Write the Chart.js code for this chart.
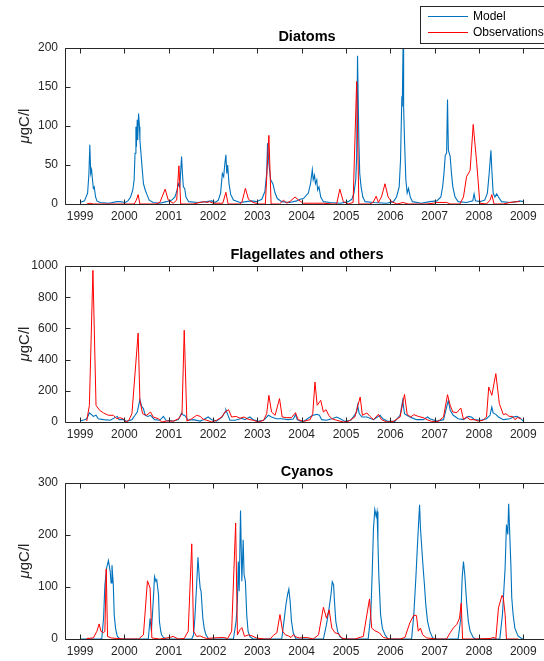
<!DOCTYPE html>
<html>
<head>
<meta charset="utf-8">
<script src="https://cdn.jsdelivr.net/npm/chart.js@4.4.0/dist/chart.umd.min.js"></script>
<style>
  html, body { margin:0; padding:0; background:#fff; }
  body { width:544px; height:661px; overflow:hidden; position:relative; }
  .panel { position:absolute; left:0; width:560px; height:230px; }
  canvas { display:block; }
</style>
</head>
<body>
<div class="panel" style="top:0px"><canvas id="c1" width="560" height="230"></canvas></div>
<div class="panel" style="top:218px"><canvas id="c2" width="560" height="230"></canvas></div>
<div class="panel" style="top:435px"><canvas id="c3" width="560" height="230"></canvas></div>
<script>
// ---------- tick labels ----------
const YEAR_TICKS = [1999,2000,2001,2002,2003,2004,2005,2006,2007,2008,2009];
const DIA_Y_TICKS = [0,50,100,150,200];
const FLA_Y_TICKS = [0,200,400,600,800,1000];
const CYA_Y_TICKS = [0,100,200,300];
const SERIES_LABELS = ['Model','Observations'];
const TITLES = ['Diatoms','Flagellates and others','Cyanos'];

// ---------- Diatoms ----------
const diaModelT = [1999.00,1999.10,1999.17,1999.20,1999.22,1999.24,1999.26,1999.28,1999.30,1999.32,1999.35,1999.38,1999.45,1999.65,1999.83,1999.90,
2000.02,2000.08,2000.14,2000.19,2000.22,2000.24,2000.26,2000.27,2000.29,2000.30,2000.32,2000.34,2000.35,2000.38,2000.41,2000.43,2000.47,2000.51,2000.56,2000.65,2000.80,2000.95,
2001.07,2001.14,2001.18,2001.22,2001.25,2001.29,2001.31,2001.33,2001.36,2001.39,2001.45,2001.65,2001.86,2001.97,
2002.05,2002.12,2002.17,2002.21,2002.24,2002.26,2002.29,2002.31,2002.33,2002.36,2002.40,2002.46,2002.61,2002.75,2002.87,2002.98,
2003.10,2003.17,2003.21,2003.23,2003.26,2003.30,2003.35,2003.40,2003.45,2003.55,2003.73,2003.89,2003.96,
2004.04,2004.15,2004.20,2004.24,2004.26,2004.29,2004.31,2004.34,2004.36,2004.39,2004.43,2004.49,2004.64,2004.87,
2005.05,2005.13,2005.18,2005.22,2005.24,2005.26,2005.29,2005.31,2005.34,2005.38,2005.43,2005.62,2005.92,
2006.07,2006.14,2006.20,2006.23,2006.26,2006.27,2006.29,2006.30,2006.32,2006.35,2006.38,2006.41,2006.45,2006.50,2006.70,2006.89,
2007.05,2007.14,2007.18,2007.21,2007.24,2007.27,2007.29,2007.31,2007.35,2007.38,2007.41,2007.46,2007.53,2007.72,2007.86,2007.89,2007.92,
2008.02,2008.13,2008.19,2008.23,2008.27,2008.29,2008.32,2008.36,2008.40,2008.44,2008.51,2008.70,2008.85,2008.92,2009.00];
const diaModelV = [2,4,14,39,76,39,44,31,20,22,9,4,2,1,3,3,
2,4,9,18,31,65,99,73,108,82,116,99,82,61,39,26,18,12,5,2,1,3,
5,9,16,26,22,61,39,22,20,9,3,2,3,4,
2,5,14,39,35,48,63,39,50,26,12,5,2,3,4,3,
6,16,39,78,52,31,26,14,7,3,2,4,6,
7,14,26,44,31,37,26,31,18,22,9,3,2,1,
3,6,14,31,61,190,82,39,22,9,3,2,1,
3,9,22,56,138,125,215,125,82,31,14,20,9,3,1,3,
4,9,22,39,63,65,134,69,61,39,22,9,3,2,4,13,4,
3,5,14,39,69,44,14,9,13,9,3,2,3,4,3];
const diaObsT = [1999.15,1999.22,1999.30,1999.60,2000.00,2000.22,2000.27,2000.31,2000.35,2000.70,2000.80,2000.92,2000.99,2001.10,2001.18,2001.23,2001.27,2001.55,2001.71,2001.80,2001.86,2001.92,
2002.00,2002.22,2002.29,2002.34,2002.60,2002.65,2002.73,2002.80,2002.90,2003.04,2003.18,2003.26,2003.31,2003.50,2003.59,2003.66,2003.75,2003.85,2003.93,
2004.04,2004.27,2004.49,2004.70,2004.79,2004.86,2004.94,2005.05,2005.16,2005.24,2005.29,2005.53,2005.61,2005.68,2005.73,2005.80,2005.88,2005.95,
2006.03,2006.15,2006.29,2006.40,2006.80,2006.97,2007.05,2007.27,2007.35,2007.57,2007.65,2007.72,2007.80,2007.87,2007.95,
2008.02,2008.17,2008.25,2008.29,2008.34,2008.55,2008.70,2008.85,2008.92];
const diaObsV = [0,1,0,0,0,0,5,12,0,0,2,19,5,1,5,49,0,0,2,3,2,3,
1,1,15,0,0,2,20,6,2,0,0,88,0,0,5,1,4,9,5,
1,1,1,0,0,19,3,0,2,157,0,0,2,10,2,9,26,9,
3,0,2,0,0,1,2,2,0,0,9,35,43,102,52,
1,0,5,12,0,0,2,3,3];

// ---------- Flagellates and others ----------
const flaModelT = [1999.00,1999.10,1999.15,1999.21,1999.26,1999.30,1999.36,1999.41,1999.53,1999.68,1999.84,1999.88,1999.98,
2000.05,2000.17,2000.24,2000.29,2000.35,2000.39,2000.43,2000.47,2000.53,2000.59,2000.68,2000.80,2000.88,2000.94,
2001.11,2001.22,2001.29,2001.33,2001.36,2001.44,2001.56,2001.71,2001.78,2001.89,2001.97,
2002.08,2002.20,2002.27,2002.29,2002.33,2002.38,2002.50,2002.65,2002.72,2002.83,2002.91,
2003.02,2003.14,2003.25,2003.32,2003.43,2003.54,2003.69,2003.81,2003.86,2003.90,2003.96,
2004.04,2004.19,2004.26,2004.34,2004.40,2004.45,2004.56,2004.68,2004.79,2004.87,2004.98,
2005.11,2005.24,2005.26,2005.30,2005.36,2005.47,2005.62,2005.77,2005.83,2005.95,
2006.10,2006.22,2006.28,2006.32,2006.37,2006.48,2006.59,2006.74,2006.84,2006.89,
2007.05,2007.20,2007.27,2007.31,2007.35,2007.42,2007.53,2007.65,2007.76,2007.83,2007.90,
2008.05,2008.17,2008.25,2008.29,2008.32,2008.38,2008.44,2008.55,2008.70,2008.77,2008.85,2008.92,2009.00];
const flaModelV = [6,15,21,58,47,36,43,21,15,11,36,15,15,
4,15,43,64,143,100,85,43,36,43,15,11,36,11,
6,15,58,43,43,11,15,6,15,32,15,
6,32,64,79,49,11,11,24,15,32,15,
4,11,43,32,21,21,15,19,47,15,6,
4,32,43,49,43,15,11,21,32,21,4,
11,64,107,53,32,32,15,43,21,4,
4,43,139,53,43,28,15,15,32,21,
6,15,96,139,75,43,21,15,36,32,15,
11,21,43,96,58,49,32,15,21,32,36,28,6];
const flaObsT = [1999.15,1999.21,1999.29,1999.36,1999.44,1999.53,1999.64,1999.75,1999.83,1999.90,1999.98,
2000.04,2000.10,2000.17,2000.31,2000.35,2000.41,2000.50,2000.59,2000.65,2000.77,2000.84,2000.95,
2001.11,2001.22,2001.30,2001.35,2001.41,2001.52,2001.63,2001.71,2001.78,2001.86,2001.97,
2002.08,2002.20,2002.27,2002.35,2002.42,2002.52,2002.61,2002.70,2002.80,2002.91,
2003.02,2003.14,2003.21,2003.26,2003.32,2003.40,2003.50,2003.56,2003.66,2003.77,2003.86,2003.92,
2004.04,2004.19,2004.25,2004.30,2004.35,2004.43,2004.49,2004.55,2004.61,2004.68,2004.79,2004.94,
2005.05,2005.20,2005.32,2005.37,2005.47,2005.54,2005.62,2005.73,2005.80,2005.92,
2006.07,2006.22,2006.32,2006.38,2006.46,2006.53,2006.63,2006.74,2006.83,2006.93,
2007.08,2007.20,2007.29,2007.35,2007.41,2007.50,2007.59,2007.65,2007.72,2007.80,2007.90,2007.98,
2008.09,2008.17,2008.22,2008.29,2008.38,2008.46,2008.55,2008.61,2008.68,2008.76,2008.81,2008.87,2008.95];
const flaObsV = [6,107,972,107,75,58,43,43,21,28,19,
0,11,53,570,139,53,43,64,32,21,0,6,
6,21,53,588,6,21,43,36,17,11,0,
11,32,64,79,32,36,24,32,17,11,
0,11,53,171,64,43,150,32,28,28,60,15,
4,15,53,256,107,139,64,79,43,21,11,0,
4,32,160,43,58,36,15,49,15,0,
4,32,177,49,32,47,36,28,15,4,
4,32,175,107,64,60,90,17,32,15,15,6,
11,32,224,171,310,118,47,53,36,36,15,28,21];

// ---------- Cyanos ----------
const cyaModelT = [1999.00,1999.45,1999.49,1999.53,1999.56,1999.60,1999.64,1999.68,1999.70,1999.72,1999.75,1999.77,1999.80,1999.84,1999.90,
2000.54,2000.58,2000.61,2000.65,2000.68,2000.71,2000.73,2000.77,2000.79,2000.82,2000.84,2000.88,2000.95,
2001.52,2001.56,2001.59,2001.63,2001.66,2001.69,2001.71,2001.73,2001.77,2001.80,2001.84,2001.90,
2002.46,2002.52,2002.55,2002.57,2002.59,2002.62,2002.65,2002.68,2002.70,2002.73,2002.76,2002.79,2002.83,2002.90,
2003.55,2003.60,2003.64,2003.68,2003.71,2003.74,2003.77,2003.81,2003.87,
2004.49,2004.56,2004.62,2004.66,2004.69,2004.72,2004.74,2004.77,2004.81,2004.86,2004.93,
2005.50,2005.56,2005.59,2005.62,2005.65,2005.68,2005.70,2005.72,2005.74,2005.78,2005.82,2005.88,2005.95,
2006.48,2006.53,2006.58,2006.62,2006.64,2006.66,2006.68,2006.71,2006.74,2006.77,2006.80,2006.84,2006.89,2006.95,2007.00,
2007.53,2007.59,2007.62,2007.65,2007.68,2007.72,2007.76,2007.80,2007.87,2007.92,
2008.47,2008.53,2008.59,2008.62,2008.65,2008.67,2008.70,2008.72,2008.74,2008.77,2008.81,2008.88,2008.96,2009.00];
const cyaModelV = [0,0,1,40,104,137,151,130,108,142,104,47,21,5,0,
0,40,15,72,120,111,114,85,34,15,8,3,0,
0,8,40,104,157,117,98,92,40,21,8,0,
0,34,72,149,92,247,111,191,124,111,47,15,5,0,
0,34,63,85,96,72,34,12,0,
0,28,60,85,110,104,72,34,15,5,0,
0,47,124,213,249,236,245,188,124,47,21,8,0,
0,47,124,194,226,258,213,175,137,104,66,34,15,3,0,
0,40,117,149,124,72,34,15,3,0,
0,47,137,220,201,260,188,143,79,47,21,6,1,0];
const cyaObsT = [1999.15,1999.30,1999.38,1999.43,1999.47,1999.53,1999.56,1999.59,1999.62,1999.70,1999.83,
2000.00,2000.32,2000.43,2000.52,2000.58,2000.62,2000.80,
2001.03,2001.10,2001.22,2001.35,2001.44,2001.52,2001.56,2001.63,2001.71,2001.78,2001.86,
2002.00,2002.23,2002.33,2002.42,2002.51,2002.55,2002.61,2002.65,2002.71,2002.80,2002.88,2002.98,
2003.15,2003.29,2003.36,2003.44,2003.51,2003.57,2003.63,2003.70,2003.76,2003.81,2003.87,2003.95,
2004.11,2004.26,2004.38,2004.49,2004.56,2004.62,2004.68,2004.75,2004.83,2004.90,
2005.00,2005.20,2005.39,2005.53,2005.58,2005.65,2005.75,2005.84,2005.99,
2006.22,2006.33,2006.44,2006.53,2006.59,2006.63,2006.68,2006.73,2006.82,
2007.05,2007.27,2007.35,2007.42,2007.50,2007.56,2007.60,2007.63,2007.90,
2008.25,2008.34,2008.38,2008.44,2008.52,2008.55,2008.59,2008.62,2008.89];
const cyaObsV = [1,2,15,29,15,12,15,135,5,2,1,
0,0,8,112,98,2,0,
3,5,0,1,15,183,15,5,6,3,1,
2,3,1,15,223,8,18,22,5,8,6,2,
0,0,7,12,47,15,8,6,3,8,4,2,
3,0,8,61,40,56,21,12,10,2,
0,0,5,77,21,16,12,3,0,
0,3,31,46,45,15,21,8,2,
0,0,12,21,28,40,69,0,0,
1,3,0,60,84,79,47,0,0];

// ---------- rendering ----------
const FONT = '"Liberation Sans", Arial, Helvetica, sans-serif';
const AXIS_COLOR = '#262626';
const MODEL_COLOR = '#0072BD';
const OBS_COLOR = '#FF0000';

function pts(T, V) { return T.map((t, i) => ({ x: t, y: V[i] })); }

const matlabAxes = {
  id: 'matlabAxes',
  afterDraw(chart, args, opts) {
    const { ctx, chartArea: a, scales: { x, y } } = chart;
    ctx.save();
    ctx.strokeStyle = AXIS_COLOR;
    ctx.lineWidth = 1;
    const L = Math.round(a.left) + 0.5, R = Math.round(a.right) + 0.5;
    const T = Math.round(a.top) + 0.5, B = Math.round(a.bottom) + 0.5;
    ctx.beginPath();
    ctx.rect(L, T, R - L, B - T);
    ctx.stroke();
    const tl = 5;
    ctx.beginPath();
    x.ticks.forEach(t => {
      const px = Math.round(x.getPixelForValue(t.value)) + 0.5;
      ctx.moveTo(px, B); ctx.lineTo(px, B - tl);
      ctx.moveTo(px, T); ctx.lineTo(px, T + tl);
    });
    y.ticks.forEach(t => {
      const py = Math.round(y.getPixelForValue(t.value)) + 0.5;
      ctx.moveTo(L, py); ctx.lineTo(L + tl, py);
      ctx.moveTo(R, py); ctx.lineTo(R - tl, py);
    });
    ctx.stroke();

    // title
    ctx.fillStyle = '#000';
    ctx.font = 'bold 14.5px ' + FONT;
    ctx.textAlign = 'center';
    ctx.textBaseline = 'middle';
    ctx.fillText(opts.title, (a.left + a.right) / 2, a.top - 11);

    // y label  (mu italic)
    ctx.save();
    ctx.translate(25, (a.top + a.bottom) / 2);
    ctx.rotate(-Math.PI / 2);
    ctx.fillStyle = AXIS_COLOR;
    ctx.textAlign = 'left';
    ctx.textBaseline = 'middle';
    const fItal = 'italic 15px ' + FONT, fNorm = '15px ' + FONT;
    ctx.font = fItal; const w1 = ctx.measureText('\u03BC').width;
    ctx.font = fNorm; const w2 = ctx.measureText('gC/l').width;
    const x0 = -(w1 + w2) / 2;
    ctx.font = fItal; ctx.fillText('\u03BC', x0, 0);
    ctx.font = fNorm; ctx.fillText('gC/l', x0 + w1, 0);
    ctx.restore();

    // legend
    if (opts.legend) {
      const bx = 420.5, by = 6.5, bw = 200, bh = 37;
      ctx.fillStyle = '#fff';
      ctx.fillRect(bx, by, bw, bh);
      ctx.strokeStyle = AXIS_COLOR;
      ctx.strokeRect(bx, by, bw, bh);
      ctx.font = '12px ' + FONT;
      ctx.textAlign = 'left';
      ctx.textBaseline = 'middle';
      chart.data.datasets.forEach((ds, i) => {
        const ly = 16 + i * 16;
        ctx.strokeStyle = ds.borderColor;
        ctx.lineWidth = 1;
        ctx.beginPath();
        ctx.moveTo(428, ly + 0.5); ctx.lineTo(468, ly + 0.5);
        ctx.stroke();
        ctx.fillStyle = '#000';
        ctx.fillText(ds.label, 473, ly + 0.5);
      });
    }
    ctx.restore();
  }
};

function makeChart(id, title, yTicks, mT, mV, oT, oV, legend) {
  const yMax = yTicks[yTicks.length - 1];
  new Chart(document.getElementById(id), {
    type: 'line',
    data: {
      datasets: [
        { label: SERIES_LABELS[0], data: pts(mT, mV), borderColor: MODEL_COLOR, borderWidth: 1.1,
          pointRadius: 0, tension: 0, fill: false, order: 1 },
        { label: SERIES_LABELS[1], data: pts(oT, oV), borderColor: OBS_COLOR, borderWidth: 1,
          pointRadius: 0, tension: 0, fill: false, order: 0 }
      ]
    },
    options: {
      responsive: false,
      animation: false,
      devicePixelRatio: 1,
      events: [],
      layout: { padding: { top: 48, left: 0, right: 11, bottom: 0 } },
      scales: {
        x: {
          type: 'linear', min: 1998.66, max: 2009.58,
          grid: { display: false, drawTicks: false }, border: { display: false },
          afterBuildTicks: s => { s.ticks = YEAR_TICKS.map(v => ({ value: v })); },
          afterFit: s => { s.height = 26; },
          ticks: { autoSkip: false, maxRotation: 0, padding: 5, color: AXIS_COLOR,
                   font: { family: FONT, size: 12 }, callback: v => String(v) }
        },
        y: {
          type: 'linear', min: 0, max: yMax,
          grid: { display: false, drawTicks: false }, border: { display: false },
          afterBuildTicks: s => { s.ticks = yTicks.map(v => ({ value: v })); },
          afterFit: s => { s.width = 65; },
          ticks: { padding: 7, color: AXIS_COLOR, font: { family: FONT, size: 12 },
                   callback: v => String(v) }
        }
      },
      plugins: {
        legend: { display: false },
        tooltip: { enabled: false },
        matlabAxes: { title: title, legend: legend }
      }
    },
    plugins: [matlabAxes]
  });
}

makeChart('c1', TITLES[0], DIA_Y_TICKS, diaModelT, diaModelV, diaObsT, diaObsV, true);
makeChart('c2', TITLES[1], FLA_Y_TICKS, flaModelT, flaModelV, flaObsT, flaObsV, false);
makeChart('c3', TITLES[2], CYA_Y_TICKS, cyaModelT, cyaModelV, cyaObsT, cyaObsV, false);
</script>
</body>
</html>
